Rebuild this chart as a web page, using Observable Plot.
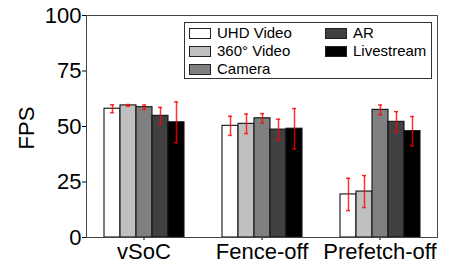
<!DOCTYPE html>
<html>
<head>
<meta charset="utf-8">
<script src="https://cdn.jsdelivr.net/npm/d3@7"></script>
<script src="https://cdn.jsdelivr.net/npm/@observablehq/plot@0.6"></script>
<style>
  html, body { margin: 0; padding: 0; background: #fff; }
  #wrap { position: relative; width: 451px; height: 264px; font-family: "Liberation Sans", Arial, sans-serif; }
  #legend { position: absolute; left: 184px; top: 22px; width: 246px; height: 55px; border: 1px solid #333; background: #fff; box-sizing: content-box; }
  .item { position: absolute; font-size: 15px; line-height: 18px; color: #000; white-space: nowrap; }
  .sw { position: absolute; width: 20px; height: 9px; border: 1px solid #222; top: 4px; left: 0; }
  .item span.t { position: absolute; left: 28px; top: 0; }
  #ylabel { position: absolute; left: 27px; top: 128px; transform: translate(-50%, -50%) rotate(-90deg); font-size: 22px; color: #000; white-space: nowrap; }
</style>
</head>
<body>
<div id="wrap"></div>
<script>
const groups = ["vSoC", "Fence-off", "Prefetch-off"];
const series = ["UHD Video", "360° Video", "Camera", "AR", "Livestream"];
const colors = ["#ffffff", "#c0c0c0", "#808080", "#404040", "#000000"];
const yTicks = [0, 25, 50, 75, 100];

const vsocFps = [58.0, 59.5, 58.7, 54.8, 51.9];
const vsocErr = [1.8, 0.4, 1.0, 3.8, 9.2];
const fenceFps = [50.3, 51.2, 53.7, 48.6, 49.0];
const fenceErr = [4.3, 4.4, 2.1, 4.7, 9.1];
const prefetchFps = [19.4, 20.7, 57.5, 52.1, 47.9];
const prefetchErr = [7.3, 7.2, 2.2, 4.6, 6.6];

const fpsByGroup = [vsocFps, fenceFps, prefetchFps];
const errByGroup = [vsocErr, fenceErr, prefetchErr];

const data = [];
groups.forEach((g, gi) => series.forEach((s, si) => {
  data.push({group: g, series: s, fps: fpsByGroup[gi][si], err: errByGroup[gi][si]});
}));

const W = 451, H = 264, mL = 86, mR = 13, mT = 15, mB = 27;

const chart = Plot.plot({
  width: W,
  height: H,
  marginLeft: mL,
  marginRight: mR,
  marginTop: mT,
  marginBottom: mB,
  style: {fontFamily: "'Liberation Sans', Arial, sans-serif", fontSize: "22px", color: "#000", background: "#fff"},
  fx: {domain: groups, paddingInner: 0.025, paddingOuter: 0, label: null, tickSize: 3, tickPadding: 3, axis: "bottom"},
  x: {domain: series, paddingInner: 0, paddingOuter: 0.96, axis: null},
  y: {domain: [0, 100], ticks: yTicks, tickSize: 4, tickPadding: 1, label: null},
  color: {domain: series, range: colors},
  marks: [
    Plot.barY(data, {fx: "group", x: "series", y: "fps", fill: "series", stroke: "#111", strokeWidth: 1.1, inset: 0}),
    Plot.ruleX(data, {fx: "group", x: "series", y1: d => d.fps - d.err, y2: d => d.fps + d.err, stroke: "#ff0000", strokeOpacity: 0.8, strokeWidth: 1.5}),
    Plot.tickY(data, {fx: "group", x: "series", y: d => d.fps + d.err, stroke: "#ff0000", strokeOpacity: 0.8, strokeWidth: 1.5, insetLeft: 6, insetRight: 6}),
    Plot.tickY(data, {fx: "group", x: "series", y: d => d.fps - d.err, stroke: "#ff0000", strokeOpacity: 0.8, strokeWidth: 1.5, insetLeft: 6, insetRight: 6}),
    Plot.frame({facet: "super", stroke: "#444", strokeWidth: 1})
  ]
});

const wrap = document.getElementById("wrap");
wrap.appendChild(chart);

const ylab = document.createElement("div");
ylab.id = "ylabel";
ylab.textContent = "FPS";
wrap.appendChild(ylab);

const legend = document.createElement("div");
legend.id = "legend";
const pos = [[4, 1], [4, 19], [4, 37], [140, 1], [140, 19]];
series.forEach((s, i) => {
  const it = document.createElement("div");
  it.className = "item";
  it.style.left = pos[i][0] + "px";
  it.style.top = pos[i][1] + "px";
  const sw = document.createElement("div");
  sw.className = "sw";
  sw.style.background = colors[i];
  const t = document.createElement("span");
  t.className = "t";
  t.textContent = s;
  it.appendChild(sw);
  it.appendChild(t);
  legend.appendChild(it);
});
wrap.appendChild(legend);
</script>
</body>
</html>
